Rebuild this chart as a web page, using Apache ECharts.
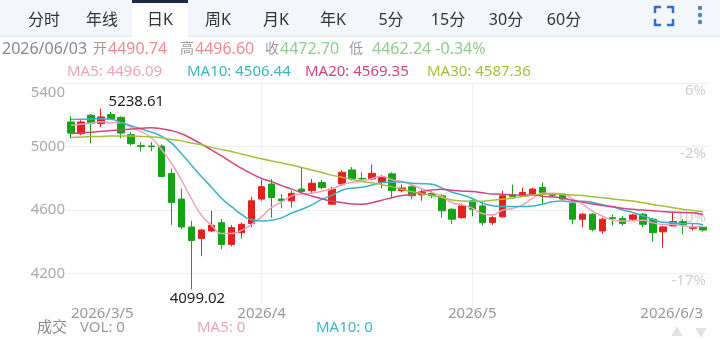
<!DOCTYPE html>
<html>
<head>
<meta charset="utf-8">
<title>日K</title>
<script src="https://cdn.jsdelivr.net/npm/echarts@6.0.0/dist/echarts.min.js"></script>
<style>
  html, body { margin: 0; padding: 0; background: #fff; }
  #chart { width: 720px; height: 340px; }
</style>
</head>
<body>
<div id="chart"></div>
<script>
// 交易日
const dates = [
  '2026/03/05','2026/03/06','2026/03/09','2026/03/10','2026/03/11','2026/03/12','2026/03/13',
  '2026/03/16','2026/03/17','2026/03/18','2026/03/19','2026/03/20','2026/03/23','2026/03/24',
  '2026/03/25','2026/03/26','2026/03/27','2026/03/30','2026/03/31',
  '2026/04/01','2026/04/02','2026/04/06','2026/04/07','2026/04/08','2026/04/09','2026/04/10',
  '2026/04/13','2026/04/14','2026/04/15','2026/04/16','2026/04/17','2026/04/20','2026/04/21',
  '2026/04/22','2026/04/23','2026/04/24','2026/04/27','2026/04/28','2026/04/29','2026/04/30',
  '2026/05/01','2026/05/04','2026/05/05','2026/05/06','2026/05/07','2026/05/08','2026/05/11',
  '2026/05/12','2026/05/13','2026/05/14','2026/05/15','2026/05/18','2026/05/19','2026/05/20',
  '2026/05/21','2026/05/22','2026/05/25','2026/05/26','2026/05/27','2026/05/28','2026/05/29',
  '2026/06/01','2026/06/02','2026/06/03'
];
// 开 高 低 收
const opens = [5154,5080,5197,5144,5201,5183,5074,5005,5003,5002, 4830,4668,4492,4420,4467,4519,4382,4456,4513,4668,
  4763,4668,4657,4731,4721,4773,4636,4763,4852,4798, 4795,4773,4827,4721,4746,4695,4703,4689,4604,4551,
  4657,4625,4519,4556,4695,4689,4700,4741,4700,4700, 4640,4541,4573,4467,4551,4545,4541,4573,4541,4462,
  4499,4526,4484,4490.74];
const highs = [5190,5165,5203,5238.61,5218,5190,5091,5027,5027,5013, 4860,4733,4530,4480,4594,4543,4505,4520,4683,4790,
  4795,4700,4720,4865,4795,4790,4745,4850,4870,4837, 4886,4820,4837,4760,4757,4730,4720,4700,4610,4640,
  4665,4657,4560,4721,4759,4740,4740,4773,4705,4705, 4650,4580,4580,4551,4570,4560,4575,4580,4551,4499,
  4589,4541,4510,4496.60];
const lows = [5051,5070,5019,5121,5170,5051,5006,4968,4970,4805, 4505,4479,4099.02,4308,4460,4352,4370,4420,4490,4657,
  4551,4610,4615,4700,4700,4730,4630,4750,4785,4785, 4785,4737,4674,4710,4668,4657,4675,4551,4510,4545,
  4560,4500,4505,4550,4680,4685,4690,4636,4680,4660, 4509,4490,4465,4450,4500,4500,4530,4490,4399,4361,
  4499,4446,4470,4462.24];
const closes = [5084,5154,5144,5186,5176,5084,5017,5000,4998,4810, 4646,4492,4407,4473,4503,4382,4488,4509,4657,4746,
  4678,4657,4704,4716,4768,4741,4731,4837,4795,4795, 4830,4805,4721,4738,4689,4710,4689,4594,4541,4625,
  4604,4519,4551,4689,4683,4710,4731,4710,4690,4668, 4541,4573,4477,4541,4545,4513,4568,4509,4456,4492,
  4526,4505,4488,4472.70];

// 均线
const ma5 = [5133,5140,5146,5156,5149,5149,5121,5093,5055,4982, 4894,4789,4671,4566,4504,4451,4451,4471,4508,4556,
  4616,4649,4688,4700,4705,4717,4732,4759,4774,4780, 4798,4812,4789,4778,4757,4733,4709,4684,4645,4632,
  4611,4577,4568,4598,4609,4630,4673,4705,4705,4702, 4668,4636,4590,4560,4535,4530,4529,4535,4518,4508,
  4510,4498,4493,4496.09];
const ma10 = [5170,5171,5173,5175,5172,5150,5130,5110,5090,5065, 5022,4955,4882,4810,4743,4673,4620,4571,4537,4530,
  4534,4550,4580,4604,4631,4666,4691,4724,4737,4742, 4757,4772,4774,4776,4768,4765,4761,4737,4711,4694,
  4672,4643,4626,4621,4621,4621,4625,4636,4651,4656, 4649,4655,4647,4632,4619,4599,4583,4563,4539,4522,
  4520,4513,4514,4506.44];
const ma20 = [5081,5086,5090,5095,5100,5105,5110,5115,5118,5112, 5100,5080,5050,5015,4978,4940,4900,4862,4828,4798,
  4778,4753,4731,4707,4687,4670,4655,4647,4637,4636, 4645,4661,4677,4690,4699,4716,4726,4730,4724,4718,
  4715,4708,4700,4699,4694,4693,4693,4686,4681,4675, 4660,4649,4637,4627,4620,4610,4604,4599,4595,4589,
  4585,4584,4581,4569.35];
const ma30 = [5057,5059,5062,5063,5065,5065,5065,5063,5060,5054, 5044,5035,5022,5010,4994,4981,4968,4952,4937,4922,
  4908,4895,4883,4867,4851,4835,4819,4806,4793,4779, 4771,4759,4745,4730,4714,4701,4691,4677,4662,4656,
  4654,4655,4660,4667,4673,4684,4692,4699,4700,4697, 4693,4690,4682,4677,4669,4662,4656,4645,4634,4624,
  4614,4604,4596,4587.36];

// 刻度
const priceTicks = [4200, 4600, 5000, 5400];
const pctTicks = ['-17%', '-10%', '-2%', '6%'];
const xTickLabels = { '2026/03/05': '2026/3/5', '2026/04/01': '2026/4', '2026/05/01': '2026/5', '2026/06/03': '2026/6/3' };
const monthLines = ['2026/04/01', '2026/05/01'];

const FONT = "'Noto Sans', 'Noto Sans CJK SC', sans-serif";
const RED = '#e5211e';
const GREEN = '#17a317';
const C_MA5 = '#f0a2bc', C_MA10 = '#3db3c7', C_MA20 = '#d6437f', C_MA30 = '#a8bd3a';

const candleData = dates.map((d, i) => [opens[i], closes[i], lows[i], highs[i]]);
let hiIdx = 0, loIdx = 0;
highs.forEach((v, i) => { if (v > highs[hiIdx]) hiIdx = i; });
lows.forEach((v, i) => { if (v < lows[loIdx]) loIdx = i; });
const last = dates.length - 1;
const chg = ((closes[last] - closes[last - 1]) / closes[last - 1] * 100).toFixed(2) + '%';

function txt(x, y, s, color, size, align) {
  return {
    type: 'text', x: x, y: y, silent: true,
    style: { text: s, fill: color, fontSize: size || 15, fontFamily: FONT, align: align || 'left', verticalAlign: 'middle' }
  };
}

const tabs = ['分时', '年线', '日K', '周K', '月K', '年K', '5分', '15分', '30分', '60分'];
const tabX = [44, 102, 160, 218, 276, 333, 391, 448, 506, 564];

const graphics = [
  { type: 'rect', shape: { x: 0, y: 0, width: 720, height: 36 }, style: { fill: '#f3f6fb' }, silent: true },
  { type: 'rect', shape: { x: 0, y: 36, width: 720, height: 1 }, style: { fill: '#e3e7ee' }, silent: true },
  { type: 'rect', shape: { x: 132, y: 0, width: 56, height: 37 }, style: { fill: '#ffffff' }, silent: true },
  { type: 'rect', shape: { x: 132, y: 0, width: 56, height: 3 }, style: { fill: '#1d2a44' }, silent: true }
];
tabs.forEach((t, i) => graphics.push(txt(tabX[i], 20, t, '#333', 16, 'center')));
[[[655, 13], [655, 7], [661, 7]], [[667, 7], [673, 7], [673, 13]],
 [[655, 19], [655, 25], [661, 25]], [[667, 25], [673, 25], [673, 19]]].forEach(pts => {
  graphics.push({ type: 'polyline', shape: { points: pts }, style: { stroke: '#3a6ed4', lineWidth: 2.5, fill: null }, silent: true });
});
[8, 15, 22].forEach(y => graphics.push({ type: 'circle', shape: { cx: 700, cy: y, r: 2.2 }, style: { fill: '#5b7fb8' }, silent: true }));

// 顶部行情
const LR = '#ef8c8c', LG = '#8fcd8f', GR = '#9a9a9a';
graphics.push(
  txt(2, 49, dates[last], '#8a8a8a', 16),
  txt(93, 49, '开', GR, 14), txt(108, 49, opens[last].toFixed(2), LR, 16),
  txt(180, 49, '高', GR, 14), txt(195, 49, highs[last].toFixed(2), LR, 16),
  txt(265, 49, '收', GR, 14), txt(280, 49, closes[last].toFixed(2), LG, 16),
  txt(349, 49, '低', GR, 14), txt(372, 49, lows[last].toFixed(2) + ' ' + chg, LG, 16),
  txt(67, 72, 'MA5: ' + ma5[last].toFixed(2), C_MA5),
  txt(187, 72, 'MA10: ' + ma10[last].toFixed(2), C_MA10),
  txt(305, 72, 'MA20: ' + ma20[last].toFixed(2), C_MA20),
  txt(427, 72, 'MA30: ' + ma30[last].toFixed(2), C_MA30),
  txt(37, 328, '成交', '#8a8a8a'), txt(80, 328, 'VOL: 0', '#9a9a9a'),
  txt(197, 328, 'MA5: 0', C_MA5), txt(316, 328, 'MA10: 0', C_MA10),
  txt(677, 334, '▲', '#e2e2e2', 12, 'center'), txt(701, 334, '▼', '#e2e2e2', 12, 'center')
);

function maSeries(name, data, color) {
  return {
    name: name, type: 'line', data: data, smooth: true, showSymbol: false, silent: true,
    lineStyle: { color: color, width: 1.5 }, itemStyle: { color: color }
  };
}

const chart = echarts.init(document.getElementById('chart'));
chart.setOption({
  animation: false,
  textStyle: { fontFamily: FONT },
  grid: { left: 66, right: 12, top: 83, bottom: 35 },
  xAxis: {
    type: 'category', data: dates, boundaryGap: true,
    axisLine: { show: false }, axisTick: { show: false },
    axisLabel: {
      interval: (i, v) => v in xTickLabels,
      formatter: v => xTickLabels[v] || '',
      color: '#999', fontSize: 15, margin: 1,
      alignMinLabel: 'left', alignMaxLabel: 'right'
    },
    splitLine: {
      show: true, alignWithLabel: true,
      interval: (i, v) => monthLines.indexOf(v) >= 0,
      lineStyle: { color: '#efefef' }
    }
  },
  yAxis: [{
    type: 'value', min: 4000, max: 5400, interval: 200, position: 'left',
    axisLine: { show: false }, axisTick: { show: false },
    axisLabel: {
      color: '#aaa', fontSize: 15, margin: 1,
      formatter: v => priceTicks.indexOf(v) < 0 ? '' : (v === 5400 ? '{top|' + v + '}' : String(v)),
      rich: { top: { color: '#aaa', fontSize: 15, padding: [20, 0, 0, 0] } }
    },
    splitLine: { show: true, lineStyle: { color: ['rgba(0,0,0,0)', '#eeeeee'] } }
  }, {
    type: 'value', min: 4000, max: 5400, interval: 200, position: 'right',
    axisLine: { show: false }, axisTick: { show: false }, splitLine: { show: false },
    axisLabel: {
      inside: true, margin: 2, color: '#cfcfcf', fontSize: 15, verticalAlign: 'top',
      formatter: v => { const i = priceTicks.indexOf(v); return i < 0 ? '' : pctTicks[i]; }
    }
  }],
  graphic: graphics,
  series: [
    {
      name: '日K', type: 'candlestick', data: candleData, barWidth: 7, silent: true,
      itemStyle: { color: RED, color0: GREEN, borderColor: RED, borderColor0: GREEN, borderWidth: 1 },
      markPoint: {
        symbol: 'circle', symbolSize: 1, silent: true,
        itemStyle: { color: 'rgba(0,0,0,0)' },
        label: { show: true, color: '#222', fontSize: 15, fontFamily: FONT, formatter: p => p.value },
        data: [
          { coord: [dates[hiIdx], highs[hiIdx]], value: highs[hiIdx].toFixed(2), label: { position: 'right', offset: [2, -7] } },
          { coord: [dates[loIdx], lows[loIdx]], value: lows[loIdx].toFixed(2), label: { position: 'bottom', offset: [6, -4] } }
        ]
      }
    },
    maSeries('MA5', ma5, C_MA5),
    maSeries('MA10', ma10, C_MA10),
    maSeries('MA20', ma20, C_MA20),
    maSeries('MA30', ma30, C_MA30)
  ]
});
</script>
</body>
</html>
